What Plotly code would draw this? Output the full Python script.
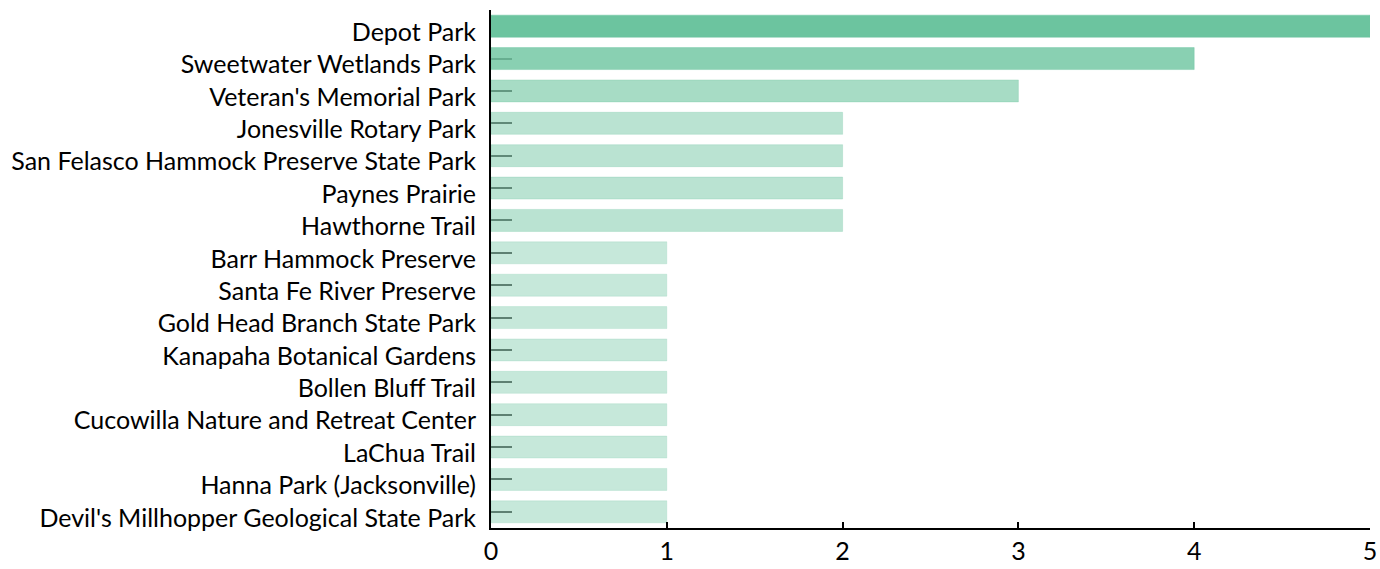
import plotly.graph_objects as go

parks = ['Depot Park',
         'Sweetwater Wetlands Park',
         "Veteran's Memorial Park",
         'Jonesville Rotary Park',
         'San Felasco Hammock Preserve State Park',
         'Paynes Prairie',
         'Hawthorne Trail',
         'Barr Hammock Preserve',
         'Santa Fe River Preserve',
         'Gold Head Branch State Park',
         'Kanapaha Botanical Gardens',
         'Bollen Bluff Trail',
         'Cucowilla Nature and Retreat Center',
         'LaChua Trail',
         'Hanna Park (Jacksonville)',
         "Devil's Millhopper Geological State Park"]
visits = [5, 4, 3, 2, 2, 2, 2, 1, 1, 1, 1, 1, 1, 1, 1, 1]
x_ticks = [0, 1, 2, 3, 4, 5]


def shade(v):
    # same green, fainter for the smaller counts
    alpha = {5: 1.0, 4: 0.8, 3: 0.6, 2: 0.47, 1: 0.39}[v]
    return f'rgba(108,196,159,{alpha})'


def edge(v):
    alpha = {5: 0.5, 4: 0.4, 3: 0.3, 2: 0.25, 1: 0.2}[v]
    return f'rgba(108,196,159,{alpha})'


fig = go.Figure()
fig.add_trace(go.Bar(x=visits,
                     y=parks,
                     orientation='h',
                     marker=dict(color=[shade(v) for v in visits],
                                 line=dict(color=[edge(v) for v in visits], width=1)),
                     showlegend=False))

fig.update_layout(width=1380,
                  height=569,
                  margin=dict(l=491, r=10, t=10, b=41, autoexpand=False),
                  paper_bgcolor='white',
                  plot_bgcolor='white',
                  bargap=0.32,
                  font=dict(family='Lato', size=25, color='black'))

fig.update_xaxes(range=[0, 5],
                 tickvals=x_ticks,
                 showgrid=False,
                 zeroline=False,
                 showline=True,
                 linecolor='black',
                 linewidth=2,
                 ticks='inside',
                 ticklen=6,
                 tickwidth=2,
                 tickcolor='black',
                 ticklabelstandoff=0,
                 ticklabeloverflow='allow')

fig.update_yaxes(categoryorder='array',
                 categoryarray=parks,
                 autorange='reversed',
                 showgrid=False,
                 zeroline=False,
                 showline=True,
                 linecolor='black',
                 linewidth=2,
                 ticks='inside',
                 ticklen=21,
                 tickwidth=2,
                 tickcolor='#555555',
                 layer='below traces',
                 ticklabelstandoff=8,
                 ticklabelshift=-6)

# drop the default body margin so the figure fills the window exactly
fig.write_html('out.html',
               config={'displayModeBar': False},
               post_script="document.body.style.margin='0';document.body.style.overflow='hidden';")
